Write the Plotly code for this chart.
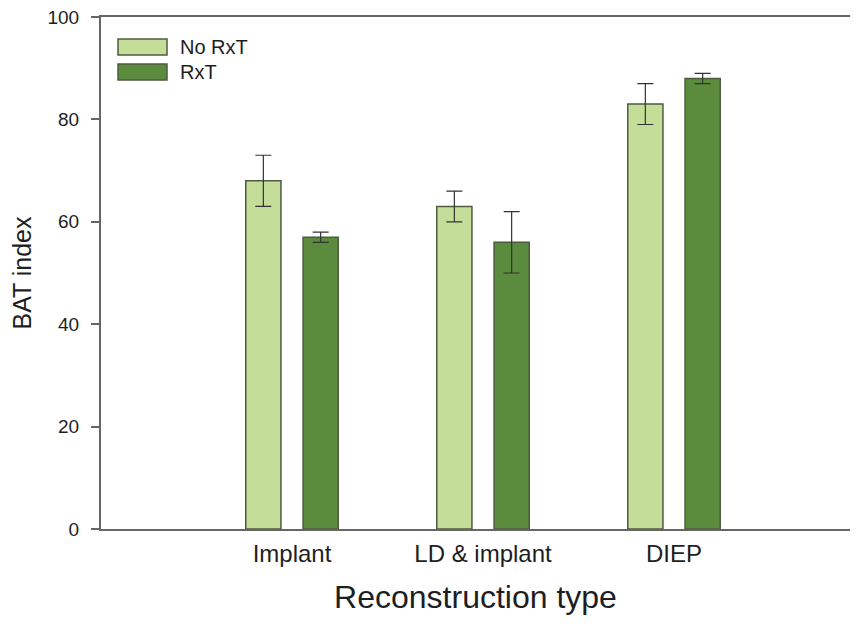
import plotly.graph_objects as go

cat_labels = ["Implant", "LD & implant", "DIEP"]
no_rxt = [68, 63, 83]
no_rxt_err = [5, 3, 4]
rxt = [57, 56, 88]
rxt_err = [1, 6, 1]
y_ticks = [0, 20, 40, 60, 80, 100]

light = "#c4de9a"
dark = "#5b8b3d"
outline = "#4d5b3e"
txt = "#1e1e1e"
font = "Liberation Sans, Arial, sans-serif"

fig = go.Figure()
fig.add_trace(go.Bar(
    name="No RxT", x=cat_labels, y=no_rxt,
    marker=dict(color=light, line=dict(color=outline, width=1.5)),
    error_y=dict(type="data", array=no_rxt_err, visible=True,
                 color="#333333", thickness=1.2, width=8),
))
fig.add_trace(go.Bar(
    name="RxT", x=cat_labels, y=rxt,
    marker=dict(color=dark, line=dict(color=outline, width=1.5)),
    error_y=dict(type="data", array=rxt_err, visible=True,
                 color="#333333", thickness=1.2, width=8),
))

# the page body adds an 8px offset; size the figure so the page does not overflow
OFF = 8
W, H = 842, 620
PLOT_L, PLOT_T, PLOT_B = 101, 17, 529
ml = PLOT_L - OFF
mt = PLOT_T - OFF
mb = H - (PLOT_B - OFF)
mr = 0
pw, ph = W - ml - mr, H - mt - mb

def px(x):
    return (x - OFF - ml) / pw

def py(y):
    return 1 - (y - OFF - mt) / ph

# legend swatches, drawn large as in the original
for (y0, y1, col, label) in [(39, 55, light, "No RxT"), (64, 80, dark, "RxT")]:
    fig.add_shape(type="rect", xref="paper", yref="paper",
                  x0=px(118), x1=px(167), y0=py(y1), y1=py(y0),
                  fillcolor=col, line=dict(color=outline, width=1.5))
    fig.add_annotation(xref="paper", yref="paper", x=px(178), y=py((y0 + y1) / 2),
                       text=label, showarrow=False, xanchor="left", yanchor="middle",
                       font=dict(family=font, size=20, color=txt))

# category positions 0,1,2 are 191 px apart, first at x=292.5 px
x_left = -1.0
x_right = x_left + pw / 191.0

fig.update_layout(
    width=W, height=H,
    margin=dict(l=ml, r=mr, t=mt, b=mb, autoexpand=False),
    barmode="group", bargap=0.4, bargroupgap=0.386,
    plot_bgcolor="white", paper_bgcolor="white",
    showlegend=False,
    font=dict(family=font, color=txt),
)
fig.update_xaxes(
    range=[x_left, x_right], automargin=False,
    showline=True, linecolor="#666666", linewidth=2,
    mirror=True, ticks="", showgrid=False,
    ticklabelstandoff=2,
    tickfont=dict(size=24, family=font, color=txt),
    title=dict(text="Reconstruction type", font=dict(size=32, family=font, color=txt), standoff=20),
)
fig.update_yaxes(
    range=[0, 100], tickvals=y_ticks, automargin=False,
    showline=True, linecolor="#666666", linewidth=2, mirror=False,
    ticks="outside", ticklen=8, tickcolor="#666666", tickwidth=1.5,
    ticklabelstandoff=8, ticklabeloverflow="allow",
    showgrid=False, zeroline=False,
    tickfont=dict(size=19, family=font, color=txt),
    title=dict(text="BAT index", font=dict(size=25, family=font, color=txt), standoff=10),
)
fig.write_html("out.html")
